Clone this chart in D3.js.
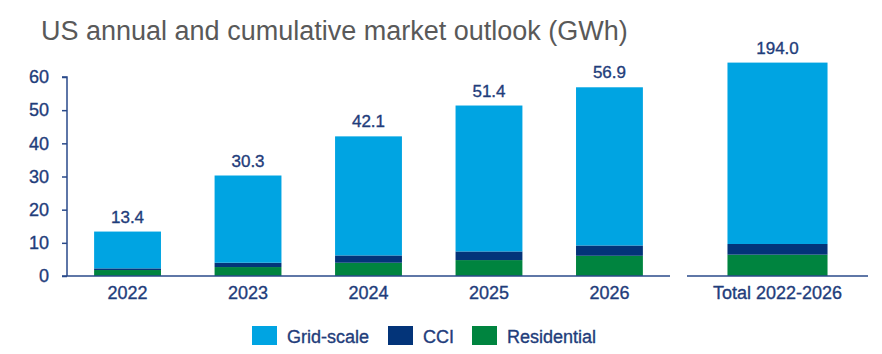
<!DOCTYPE html>
<html>
<head>
<meta charset="utf-8">
<script src="https://cdn.jsdelivr.net/npm/d3@7"></script>
<style>
  html, body { margin: 0; padding: 0; background: #fff; }
  svg { display: block; font-family: "Liberation Sans", Arial, sans-serif; }
</style>
</head>
<body>
<svg id="chart" width="882" height="354"></svg>
<script>
// ---- data ----
const years = ["2022", "2023", "2024", "2025", "2026"];
const residential = [1.8, 2.7, 4.0, 4.8, 6.1];
const cci = [0.5, 1.3, 2.2, 2.6, 3.1];
const gridScale = [11.1, 26.3, 35.9, 44.0, 47.7];
const totals = [13.4, 30.3, 42.1, 51.4, 56.9];

const cumulativeLabel = ["Total 2022-2026"];
const cumResidential = [19.4];
const cumCci = [9.7];
const cumGridScale = [164.9];
const cumTotal = [194.0];

const yTicks = [0, 10, 20, 30, 40, 50, 60];
const seriesKeys = ["Residential", "CCI", "Grid-scale"];
const legendKeys = ["Grid-scale", "CCI", "Residential"];
const titleText = "US annual and cumulative market outlook (GWh)";

// ---- styles ----
const colors = { "Grid-scale": "#00A4E2", "CCI": "#033479", "Residential": "#00843F" };
const textColor = "#1F3D7B";
const axisColor = "#2A4A8A";
const textStroke = 0.35;

const svg = d3.select("#chart");

// ---- scales ----
const baseY = 276;
const y = d3.scaleLinear().domain([0, 60]).range([baseY, 77]);
const y2 = d3.scaleLinear().domain([0, 200]).range([baseY, 56]);

const x = d3.scaleBand().domain(years).range([67, 670]).paddingInner(0.445).paddingOuter(0.225);
const x2 = d3.scaleBand().domain(cumulativeLabel).range([687, 868]).padding(0.288);

// ---- stacked data ----
const annualRows = years.map((yr, i) => ({ cat: yr, "Residential": residential[i], "CCI": cci[i], "Grid-scale": gridScale[i], total: totals[i] }));
const cumRows = cumulativeLabel.map((c, i) => ({ cat: c, "Residential": cumResidential[i], "CCI": cumCci[i], "Grid-scale": cumGridScale[i], total: cumTotal[i] }));
const stack = d3.stack().keys(seriesKeys);

function styleText(sel, size) {
  sel.attr("fill", textColor).attr("stroke", textColor).attr("stroke-width", textStroke)
     .attr("font-size", size).attr("font-family", "Liberation Sans, Arial, sans-serif");
}

function drawBars(rows, xs, ys) {
  const layers = stack(rows);
  const g = svg.append("g");
  g.selectAll("g.layer").data(layers).join("g")
    .attr("fill", d => colors[d.key])
    .selectAll("rect").data(d => d).join("rect")
    .attr("x", d => xs(d.data.cat))
    .attr("width", xs.bandwidth())
    .attr("y", d => ys(d[1]))
    .attr("height", d => ys(d[0]) - ys(d[1]));
  g.selectAll("text.val").data(rows).join("text")
    .attr("class", "val")
    .attr("x", d => xs(d.cat) + xs.bandwidth() / 2)
    .attr("y", d => ys(d.total) - 9)
    .attr("text-anchor", "middle")
    .call(styleText, 17)
    .text(d => d.total.toFixed(1));
}

drawBars(annualRows, x, y);
drawBars(cumRows, x2, y2);

// ---- y axis ----
const yAxis = d3.axisLeft(y).tickValues(yTicks).tickSize(5).tickPadding(13).tickFormat(d3.format("d"));
const ga = svg.append("g").attr("transform", "translate(67,0)").call(yAxis);
ga.select(".domain").attr("stroke", axisColor).attr("stroke-width", 1.5).attr("d", `M-5,${y(60)}H0V${baseY}`);
ga.selectAll(".tick line").attr("stroke", axisColor).attr("stroke-width", 1.5);
ga.selectAll(".tick text").call(styleText, 18);

// ---- x axes ----
function drawXAxis(xs, x0, x1) {
  const ax = d3.axisBottom(xs).tickSize(0).tickPadding(10);
  const g = svg.append("g").attr("transform", `translate(0,${baseY})`).call(ax);
  g.select(".domain").attr("stroke", axisColor).attr("stroke-width", 1.5).attr("d", `M${x0},0H${x1}`);
  g.selectAll(".tick text").call(styleText, 18);
}
drawXAxis(x, 62, 670);
drawXAxis(x2, 687, 868);

// ---- title ----
svg.append("text")
  .attr("x", 41).attr("y", 40)
  .attr("fill", "#595959")
  .attr("font-size", 27)
  .text(titleText);

// ---- legend ----
const legendX = [252, 388, 472];
const lg = svg.append("g");
legendKeys.forEach((k, i) => {
  lg.append("rect").attr("x", legendX[i]).attr("y", 326).attr("width", 25).attr("height", 19).attr("fill", colors[k]);
  lg.append("text").attr("x", legendX[i] + 35).attr("y", 343).call(styleText, 18).text(k);
});
</script>
</body>
</html>
